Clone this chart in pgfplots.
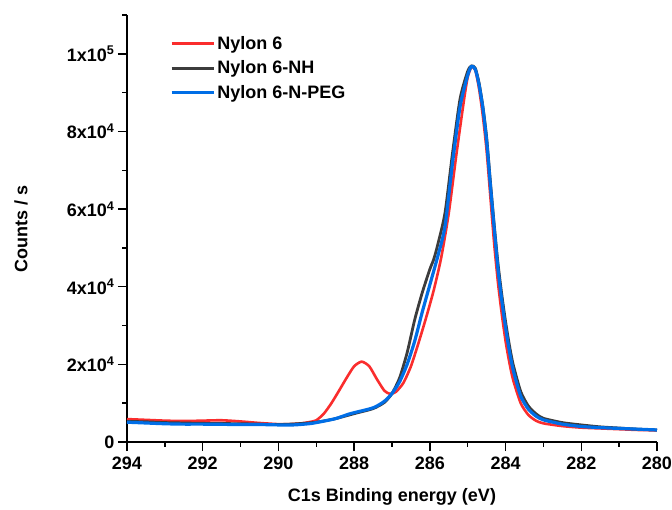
\documentclass[border=0pt]{standalone}
\usepackage{fontspec}
\setmainfont{Liberation Sans}
\usepackage{pgfplots}
\pgfplotsset{compat=1.18}
\definecolor{cred}{RGB}{250,45,45}
\definecolor{cgray}{RGB}{60,60,60}
\definecolor{cblue}{RGB}{0,110,230}
\begin{document}
\begin{tikzpicture}
\useasboundingbox (-127pt,-67pt) rectangle (545pt,442pt);
\begin{axis}[
  at={(0pt,0pt)}, anchor=south west,
  scale only axis, width=530pt, height=427pt,
  xmin=280, xmax=294, ymin=0, ymax=110000,
  x dir=reverse,
  axis x line*=bottom, axis y line*=left,
  axis line style={-, line width=1.5pt},
  xtick={280,282,...,294},
  minor xtick={281,283,...,293},
  ytick={0,20000,40000,60000,80000,100000},
  yticklabels={0,{2x10\textsuperscript{4}},{4x10\textsuperscript{4}},{6x10\textsuperscript{4}},{8x10\textsuperscript{4}},{1x10\textsuperscript{5}}},
  minor ytick={10000,30000,50000,70000,90000,110000},
  tick align=outside,
  major tick length=9pt, minor tick length=4.5pt,
  every tick/.style={black, line width=1.5pt},
  /pgf/number format/assume math mode=true,
  tick label style={font=\bfseries\fontsize{18}{21}\selectfont},
  xticklabel style={yshift=-2pt},
  scaled y ticks=false,
  xlabel={C1s Binding energy (eV)},
  ylabel={Counts / s},
  every axis x label/.style={at={([yshift=-55pt]axis description cs:0.5,0)}, anchor=center},
  every axis y label/.style={at={([xshift=-106pt]axis description cs:0,0.5)}, anchor=center, rotate=90},
  label style={font=\bfseries\fontsize{18}{21}\selectfont},
  legend style={draw=none, fill=none, at={(0.081,0.955)}, anchor=north west,
    inner sep=0pt, row sep=6pt, font=\bfseries\fontsize{18}{21}\selectfont},
  legend cell align=left,
  legend image code/.code={\draw[#1] (0pt,0pt) -- (42pt,0pt);},
  clip=false,
]
\addplot[cred, line width=2.6pt, line join=round, smooth, tension=0.4] coordinates {
(294,5900)(293.5,5700)(293,5500)(292.5,5400)(292,5500)(291.5,5600)(291,5300)(290.5,4900)(290,4600)(289.7,4600)(289.4,4800)(289.2,5100)(289.0,5600)
(288.8,7300)(288.6,10000)(288.4,13200)(288.2,16500)(288.0,19500)(287.8,20700)(287.6,19500)(287.4,16200)(287.2,13200)(287.05,12400)(286.9,12900)
(286.7,15200)(286.5,19500)(286.3,25500)(286.1,32000)(285.9,39000)(285.7,47500)(285.5,59000)(285.3,74000)(285.1,88000)(285.0,94000)(284.9,96600)
(284.8,95800)(284.7,91000)(284.6,84000)(284.5,75000)(284.4,63000)(284.3,51000)(284.2,41000)(284.1,33000)(284.0,26000)(283.9,20500)(283.8,16000)
(283.6,10000)(283.4,7000)(283.2,5500)(283.0,4800)(282.5,4100)(282,3700)(281.5,3500)(281,3300)(280.5,3100)(280,3000)
};
\addlegendentry{Nylon 6}
\addplot[cgray, line width=2.8pt, line join=round, smooth, tension=0.4] coordinates {
(294,5300)(293.5,5200)(293,5000)(292.5,4900)(292,4800)(291,4700)(290.5,4600)(290,4500)(289.5,4700)(289,5100)(288.5,6000)(288,7300)(287.5,8600)
(287.2,10200)(287.0,12500)(286.8,16500)(286.6,23000)(286.4,31500)(286.2,38500)(286.0,44500)(285.9,47000)(285.8,50500)(285.6,59000)(285.4,74500)
(285.2,88500)(285.0,95500)(284.9,96900)(284.8,96300)(284.7,92500)(284.6,86500)(284.5,78500)(284.4,67000)(284.3,56000)(284.2,46000)(284.1,38000)
(284.0,31000)(283.9,25000)(283.8,20000)(283.6,13000)(283.4,9300)(283.2,7300)(283.0,6100)(282.5,5000)(282,4400)(281.5,3900)(281,3600)(280.5,3300)(280,3100)
};
\addlegendentry{Nylon 6-NH}
\addplot[cblue, line width=3.2pt, line join=round, smooth, tension=0.4] coordinates {
(294,5100)(293.5,4900)(293,4700)(292.5,4600)(292,4600)(291,4500)(290.5,4500)(290,4400)(289.6,4400)(289.2,4700)(289,5000)(288.5,6000)(288.1,7300)
(287.5,8800)(287.2,10500)(287.0,12500)(286.8,15500)(286.6,20000)(286.4,26000)(286.2,33500)(286.0,40500)(285.8,47500)(285.6,55500)(285.4,72000)
(285.2,86500)(285.0,94500)(284.9,96800)(284.8,96000)(284.7,92000)(284.6,86000)(284.5,77500)(284.4,66000)(284.3,55000)(284.2,44500)(284.1,36500)
(284.0,29500)(283.9,23500)(283.8,18600)(283.6,11800)(283.4,8500)(283.2,6700)(283.0,5700)(282.5,4600)(282,4000)(281.5,3700)(281,3500)(280.5,3300)(280,3100)
};
\addlegendentry{Nylon 6-N-PEG}
\end{axis}
\end{tikzpicture}
\end{document}
